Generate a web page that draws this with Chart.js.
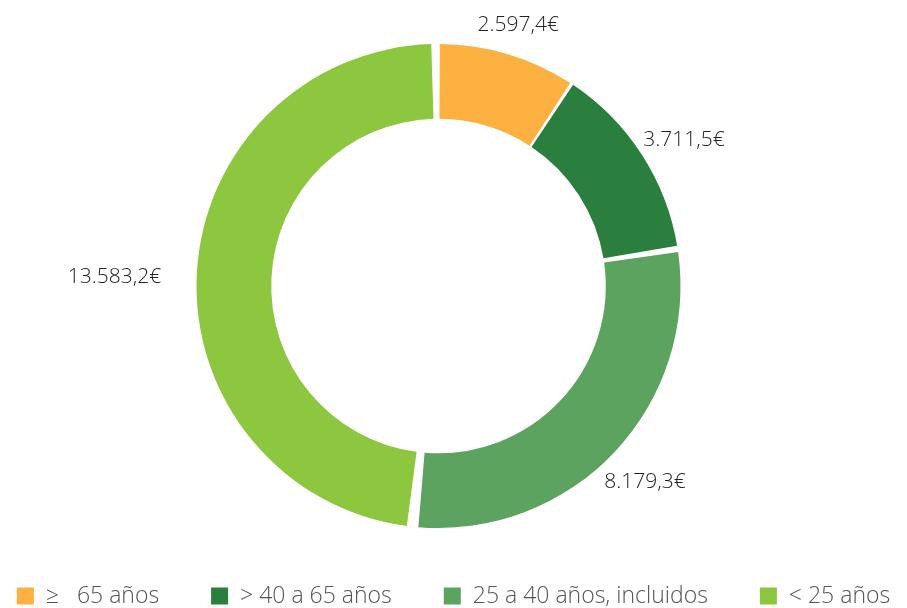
<!DOCTYPE html>
<html>
<head>
<meta charset="utf-8">
<script src="https://cdn.jsdelivr.net/npm/chart.js@4/dist/chart.umd.min.js"></script>
<style>
  html, body { margin: 0; padding: 0; background: #ffffff; }
  #wrap { width: 907px; height: 608px; position: relative; }
</style>
</head>
<body>
<div id="wrap"><canvas id="c" width="907" height="608"></canvas></div>
<script>
// Importe por tramo de edad (euros)
const categories = ['\u2265   65 años', '> 40 a 65 años', '25 a 40 años, incluidos', '< 25 años'];
const amounts = [2597.4, 3711.5, 8179.3, 13583.2];
const sliceColors = ['#FBB040', '#2A7F3E', '#5BA35E', '#8DC63F'];

const FONT = '"Open Sans", Lato, sans-serif';
const fmt = v => v.toLocaleString('es-ES', { minimumFractionDigits: 1, maximumFractionDigits: 1, useGrouping: 'always' }) + '€';

// Value labels drawn just outside each arc
const outsideLabels = {
  id: 'outsideLabels',
  afterDatasetsDraw(chart) {
    const ctx = chart.ctx;
    const meta = chart.getDatasetMeta(0);
    ctx.save();
    ctx.font = '300 21px ' + FONT;
    ctx.fillStyle = '#222222';
    ctx.textBaseline = 'middle';
    ctx.textAlign = 'center';
    meta.data.forEach((arc, i) => {
      const p = arc.getProps(['x', 'y', 'startAngle', 'endAngle', 'outerRadius'], true);
      const mid = (p.startAngle + p.endAngle) / 2;
      const r = p.outerRadius + 40;
      const text = fmt(chart.data.datasets[0].data[i]);
      const w = ctx.measureText(text).width;
      const c = Math.cos(mid);
      const x = p.x + c * r + Math.sign(c) * Math.pow(Math.abs(c), 7) * w / 2;
      const y = p.y + Math.sin(mid) * r + 5;
      ctx.fillText(text, x, y);
    });
    ctx.restore();
  }
};

// Single-row legend centred under the ring
const bottomLegend = {
  id: 'bottomLegend',
  afterDraw(chart) {
    const ctx = chart.ctx;
    const labels = chart.data.labels;
    const colors = chart.data.datasets[0].backgroundColor;
    const box = 17, boxGap = 12, itemGap = 52, cy = 596;
    ctx.save();
    ctx.font = '300 23px ' + FONT;
    ctx.textBaseline = 'middle';
    ctx.textAlign = 'left';
    const widths = labels.map(t => box + boxGap + ctx.measureText(t).width);
    const total = widths.reduce((a, b) => a + b, 0) + itemGap * (labels.length - 1);
    let x = (chart.width - total) / 2;
    labels.forEach((t, i) => {
      ctx.fillStyle = colors[i];
      ctx.fillRect(x, cy - box / 2, box, box);
      ctx.fillStyle = '#555555';
      ctx.fillText(t, x + box + boxGap, cy);
      x += widths[i] + itemGap;
    });
    ctx.restore();
  }
};

new Chart(document.getElementById('c'), {
  type: 'doughnut',
  data: {
    labels: categories,
    datasets: [{
      data: amounts,
      backgroundColor: sliceColors,
      borderWidth: 0,
      spacing: 8,
      hoverOffset: 0
    }]
  },
  options: {
    responsive: false,
    animation: false,
    cutout: '68.6%',
    layout: { padding: { top: 44, right: 30, left: 0, bottom: 80 } },
    plugins: {
      tooltip: { enabled: false },
      legend: { display: false }
    }
  },
  plugins: [outsideLabels, bottomLegend]
});
</script>
</body>
</html>
